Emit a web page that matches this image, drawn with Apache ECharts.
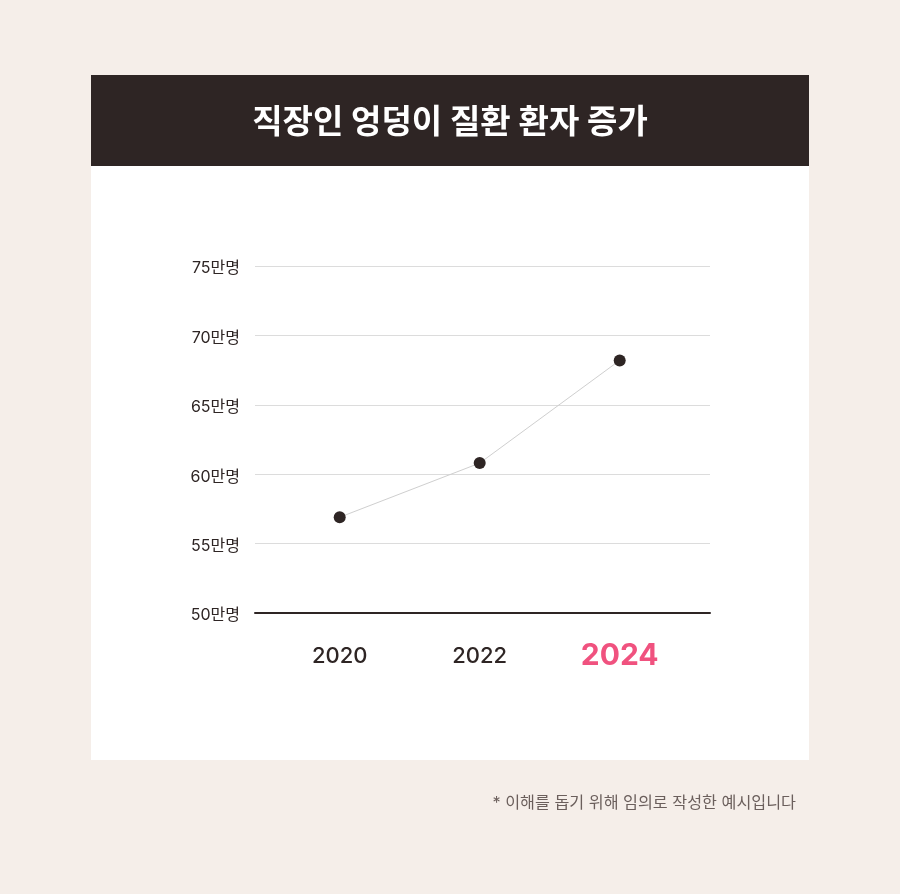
<!DOCTYPE html>
<html>
<head>
<meta charset="utf-8">
<script src="https://cdn.jsdelivr.net/npm/echarts@6/dist/echarts.min.js"></script>
<style>
  html, body { margin: 0; padding: 0; background: #f5eee9; }
  #main { width: 900px; height: 894px; }
</style>
</head>
<body>
<div id="main"></div>
<script>
// 데이터
var years = [2020, 2022, 2024];
var patients = [56.9, 60.8, 68.2]; // 만명
var yTicks = [50, 55, 60, 65, 70, 75];

var font = 'Inter, "Noto Sans CJK KR", "Noto Sans", sans-serif';
var dark = '#2e2524';
var pink = '#f0527f';

var chart = echarts.init(document.getElementById('main'));

chart.setOption({
    backgroundColor: '#f5eee9',
    animation: false,
    title: {
        text: '직장인 엉덩이 질환 환자 증가',
        left: 'center',
        top: 102,
        textStyle: { color: '#fff', fontSize: 33, fontWeight: 'bold', fontFamily: font }
    },
    graphic: [
        { type: 'rect', z: -10, shape: { x: 91, y: 75, width: 718, height: 685 }, style: { fill: '#fff' } },
        { type: 'rect', z: -9, shape: { x: 91, y: 75, width: 718, height: 91 }, style: { fill: dark } },
        {
            type: 'text', right: 104, top: 795,
            style: { text: '* 이해를 돕기 위해 임의로 작성한 예시입니다', fill: '#6b5f5c', fontSize: 16.2, fontFamily: font }
        }
    ],
    grid: { left: 255, right: 190, top: 266, bottom: 281 },
    xAxis: {
        type: 'value',
        min: 2018.79,
        max: 2025.29,
        axisLine: { show: true, lineStyle: { color: dark, width: 2 } },
        axisTick: { show: false },
        splitLine: { show: false },
        axisLabel: {
            customValues: years,
            margin: 28,
            fontFamily: font,
            formatter: function (v) {
                return v === 2024 ? '{hi|' + v + '}' : '{n|' + v + '}';
            },
            rich: {
                n: { fontSize: 22, color: dark, fontWeight: 500, fontFamily: font, lineHeight: 30 },
                hi: { fontSize: 30, color: pink, fontWeight: 'bold', fontFamily: font, lineHeight: 30 }
            }
        }
    },
    yAxis: {
        type: 'value',
        min: 50,
        max: 75,
        interval: 5,
        axisLine: { show: false },
        axisTick: { show: false },
        splitLine: { lineStyle: { color: '#dcdcdc' } },
        axisLabel: {
            margin: 15,
            formatter: function (v) { return '{a|' + v + '만명}'; },
            rich: {
                a: { color: dark, fontSize: 16, fontFamily: font, padding: [5, 0, 0, 0] }
            }
        }
    },
    series: [{
        type: 'line',
        data: years.map(function (y, i) { return [y, patients[i]]; }),
        symbol: 'circle',
        symbolSize: 12,
        itemStyle: { color: dark },
        lineStyle: { color: '#cfcfcf', width: 1 }
    }]
});
</script>
</body>
</html>
